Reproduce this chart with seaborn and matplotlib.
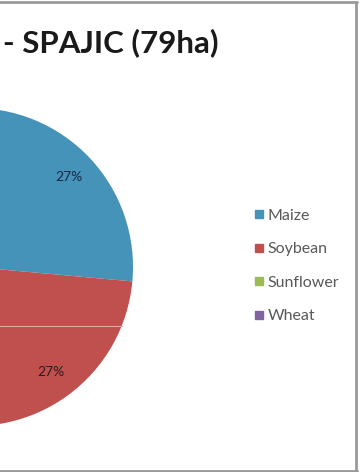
import numpy as np
import matplotlib
matplotlib.use("Agg")
import matplotlib.pyplot as plt
from matplotlib.lines import Line2D
import seaborn as sns

# Crop areas (share of 79 ha)
crops = ["Maize", "Soybean", "Sunflower", "Wheat"]
shares = [27, 27, 23, 23]
crop_colors = ["#4593b9", "#c0504d", "#9bbb59", "#8064a2"]
title = "- SPAJIC (79ha)"

sns.set_style("white")
plt.rcParams["font.family"] = ["Lato", "DejaVu Sans"]
palette = sns.color_palette(crop_colors)

W, H = 360, 472
fig = plt.figure(figsize=(W / 100, H / 100), dpi=100)

# pie placed so that its centre lies just beyond the left edge
R, cx, cy = 159, -26, 267
ax = fig.add_axes([(cx - R) / W, (H - cy - R) / H, 2 * R / W, 2 * R / H])
wedges, _, autotexts = ax.pie(
    shares, colors=palette, startangle=92, counterclock=False,
    autopct="%1.0f%%", pctdistance=0.82, radius=1,
    wedgeprops=dict(linewidth=0),
    textprops=dict(fontsize=10, family=["Lato", "DejaVu Sans"]),
)
label_colors = ["#1a2846", "#2e1a1a", "#222222", "#222222"]
for t, c in zip(autotexts, label_colors):
    t.set_color(c)
    # percentages of wedges lying left of the figure edge are not shown
    if t.get_position()[0] < -0.5:
        t.set_visible(False)
ax.set_xlim(-1, 1)
ax.set_ylim(-1, 1)
ax.set_aspect("equal")
ax.axis("off")

# faint horizontal rule across the lower wedge
yl = (cy - 326) / R
ax.plot([-1, np.sqrt(1 - yl ** 2)], [yl, yl], color="#dba9a7", lw=0.8, zorder=3)

fig.text(3 / W, 1 - 52 / H, title, fontsize=22.5, fontweight="bold",
         color="#1a1a1a", va="baseline", ha="left", family=["Lato", "DejaVu Sans"])

handles = [Line2D([], [], marker="s", linestyle="", markersize=5.5,
                  markerfacecolor=c, markeredgecolor=c) for c in palette]
leg = fig.legend(handles, crops, loc="center left",
                 bbox_to_anchor=(246 / W, 1 - 266 / H), frameon=False,
                 fontsize=11.5, labelspacing=1.2, handlelength=0.6,
                 handletextpad=0.25, borderpad=0)
for t in leg.get_texts():
    t.set_color("#595959")

# frame lines along the top, right and bottom
for xs, ys in [([0, 357 / W], [1 - 2 / H] * 2),
               ([355.5 / W] * 2, [1 - 2 / H, 1 - 470.5 / H]),
               ([0, 357 / W], [1 - 470.5 / H] * 2)]:
    fig.add_artist(Line2D(xs, ys, color="#9a9a9a", lw=2, transform=fig.transFigure))

fig.savefig("out.png", dpi=100)
